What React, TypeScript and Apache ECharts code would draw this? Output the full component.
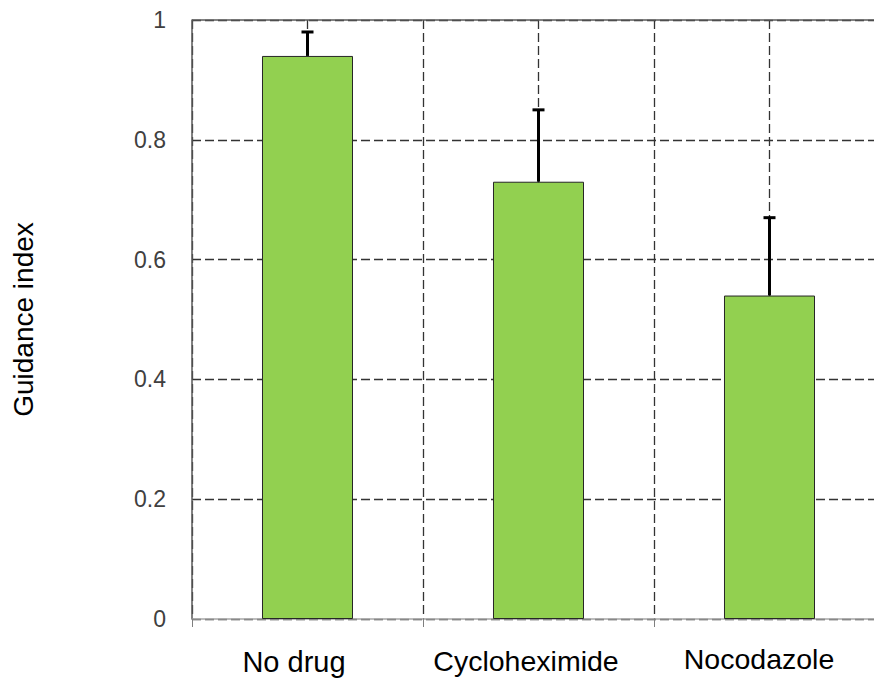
import React, { useEffect, useRef } from "react";
import * as echarts from "echarts";

const categories = ["No drug", "Cycloheximide", "Nocodazole"];
const means = [0.94, 0.73, 0.54];
const upperErrors = [0.98, 0.85, 0.67];
const yTickLabels = ["0", "0.2", "0.4", "0.6", "0.8", "1"];

const FONT = "'Liberation Sans', Arial, sans-serif";
const labelStyleKeys = ["a", "b", "c"];

export default function App() {
  const ref = useRef<HTMLDivElement>(null);

  useEffect(() => {
    if (!ref.current) return;
    const chart = echarts.init(ref.current, undefined, { renderer: "svg" });
    const dashed = { type: [9, 4] as any, color: "#333333", width: 1.3 };

    chart.setOption({
      animation: false,
      backgroundColor: "#ffffff",
      grid: { left: 192, right: 5, top: 20, bottom: 64, containLabel: false },
      xAxis: [
        {
          type: "category",
          data: categories,
          boundaryGap: true,
          axisLine: { show: true, lineStyle: { color: "#a6a6a6", width: 1.5 } },
          axisTick: { show: true, length: 8, lineStyle: { color: "#7f7f7f", width: 1 } },
          splitLine: { show: false },
          axisLabel: {
            margin: 25,
            interval: 0,
            fontFamily: FONT,
            fontSize: 29,
            color: "#000000",
            formatter: (v: string, i: number) => `{${labelStyleKeys[i]}|${v}}`,
            rich: {
              a: { fontFamily: FONT, fontSize: 29, lineHeight: 29, color: "#000", padding: [7, 27, 0, 0] },
              b: { fontFamily: FONT, fontSize: 28.5, lineHeight: 29, color: "#000", padding: [4, 25, 0, 0] },
              c: { fontFamily: FONT, fontSize: 28.5, lineHeight: 29, color: "#000", padding: [0, 21, 0, 0] },
            },
          },
        },
        {
          type: "value",
          position: "top",
          min: 0,
          max: 6,
          interval: 1,
          axisLine: { show: false },
          axisTick: { show: false },
          axisLabel: { show: false },
          splitLine: { show: true, lineStyle: dashed },
        },
      ],
      yAxis: {
        type: "value",
        min: 0,
        max: 1,
        interval: 0.2,
        name: "Guidance index",
        nameLocation: "middle",
        nameGap: 155,
        nameTextStyle: { fontFamily: FONT, fontSize: 28, color: "#000" },
        axisLine: { show: true, lineStyle: { color: "#595959", width: 1.5 } },
        axisTick: { show: false },
        axisLabel: {
          margin: 26,
          fontFamily: FONT,
          fontSize: 23,
          color: "#404040",
          formatter: (v: number) => yTickLabels[Math.round(v / 0.2)] ?? String(v),
        },
        splitLine: { show: true, lineStyle: dashed },
      },
      series: [
        {
          type: "bar",
          data: means,
          barWidth: "39.4%",
          itemStyle: { color: "#92d050", borderColor: "#262626", borderWidth: 1 },
          markLine: {
            silent: true,
            symbol: "none",
            label: { show: false },
            lineStyle: { type: "solid", color: "#595959", width: 1.5 },
            data: [{ yAxis: 1 }],
          },
        },
        {
          type: "custom",
          xAxisIndex: 0,
          yAxisIndex: 0,
          data: categories.map((_, i) => [i, means[i], upperErrors[i]]),
          encode: { x: 0, y: [1, 2] },
          renderItem: (params: any, api: any) => {
            const i = api.value(0);
            const base = api.coord([i, api.value(1)]);
            const top = api.coord([i, api.value(2)]);
            return {
              type: "group",
              children: [
                {
                  type: "line",
                  shape: { x1: base[0], y1: base[1], x2: top[0], y2: top[1] },
                  style: { stroke: "#000", lineWidth: 3 },
                },
                {
                  type: "line",
                  shape: { x1: top[0] - 6, y1: top[1], x2: top[0] + 6, y2: top[1] },
                  style: { stroke: "#000", lineWidth: 3 },
                },
              ],
            };
          },
        },
      ],
    });

    return () => chart.dispose();
  }, []);

  return (
    <div style={{ position: "fixed", left: 0, top: 0, width: 874, height: 683, overflow: "hidden", background: "#fff" }}>
      <div ref={ref} style={{ width: 890, height: 683 }} />
    </div>
  );
}
